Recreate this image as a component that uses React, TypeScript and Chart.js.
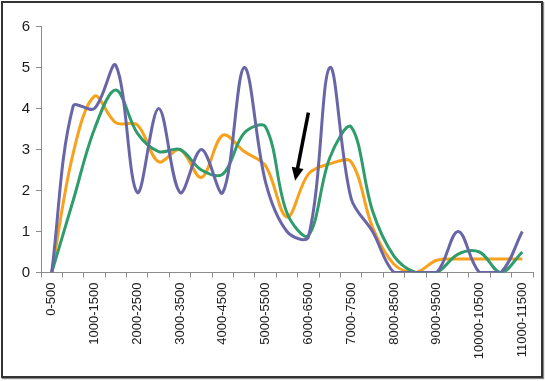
import React, { useEffect, useRef } from "react";
import { Chart, registerables } from "chart.js";

Chart.register(...registerables);

const categories = [
  "0-500", "500-1000", "1000-1500", "1500-2000", "2000-2500", "2500-3000",
  "3000-3500", "3500-4000", "4000-4500", "4500-5000", "5000-5500", "5500-6000",
  "6000-6500", "6500-7000", "7000-7500", "7500-8000", "8000-8500", "8500-9000",
  "9000-9500", "9500-10000", "10000-10500", "10500-11000", "11000-11500",
];

const purpleValues = [0, 4.05, 4.0, 5.05, 1.95, 4.0, 1.95, 3.0, 1.95, 5.0, 2.2, 1.0, 0.87, 5.0, 1.8, 1.0, 0, 0, 0, 1.0, 0, 0, 1.0];
const greenValues = [0, 1.75, 3.5, 4.45, 3.4, 2.95, 3.0, 2.5, 2.4, 3.4, 3.55, 1.45, 0.9, 2.8, 3.55, 1.5, 0.4, 0, 0, 0.45, 0.5, 0, 0.5];
const orangeValues = [0, 2.9, 4.3, 3.65, 3.6, 2.7, 3.0, 2.32, 3.35, 2.95, 2.6, 1.35, 2.4, 2.65, 2.7, 1.1, 0.2, 0, 0.3, 0.33, 0.33, 0.33, 0.33];

const yTicks = [0, 1, 2, 3, 4, 5, 6];

// arrow annotation in data units (category index, value)
const arrowTail = { x: 12.0, y: 3.9 };
const arrowTip = { x: 11.38, y: 2.24 };

const arrowPlugin = {
  id: "arrowAnnotation",
  afterDatasetsDraw(chart: any) {
    const { ctx, scales } = chart;
    const x1 = scales.x.getPixelForValue(arrowTail.x);
    const y1 = scales.y.getPixelForValue(arrowTail.y);
    const x2 = scales.x.getPixelForValue(arrowTip.x);
    const y2 = scales.y.getPixelForValue(arrowTip.y);
    const ang = Math.atan2(y2 - y1, x2 - x1);
    const headLen = 13;
    const headW = 6;
    const bx = x2 - headLen * Math.cos(ang);
    const by = y2 - headLen * Math.sin(ang);
    ctx.save();
    ctx.strokeStyle = "#000";
    ctx.fillStyle = "#000";
    ctx.lineWidth = 3.5;
    ctx.lineCap = "butt";
    ctx.beginPath();
    ctx.moveTo(x1, y1);
    ctx.lineTo(bx + 2 * Math.cos(ang), by + 2 * Math.sin(ang));
    ctx.stroke();
    ctx.beginPath();
    ctx.moveTo(x2, y2);
    ctx.lineTo(bx + headW * Math.sin(ang), by - headW * Math.cos(ang));
    ctx.lineTo(bx - headW * Math.sin(ang), by + headW * Math.cos(ang));
    ctx.closePath();
    ctx.fill();
    ctx.restore();
  },
};

export default function App() {
  const ref = useRef<HTMLCanvasElement | null>(null);

  useEffect(() => {
    if (!ref.current) return;
    const font = "'Liberation Sans', Arial, sans-serif";
    const mk = (data: number[], color: string) => ({
      data,
      borderColor: color,
      backgroundColor: color,
      borderWidth: 3,
      pointRadius: 0,
      tension: 0.35,
      fill: false,
    });
    const chart = new Chart(ref.current, {
      type: "line",
      data: {
        labels: categories,
        datasets: [
          mk(purpleValues, "#6966A8"),
          mk(greenValues, "#2F9C6C"),
          mk(orangeValues, "#F7A11C"),
        ],
      },
      options: {
        responsive: false,
        animation: false,
        events: [],
        layout: { padding: { left: 7, right: 12, top: 26.5, bottom: 0 } },
        plugins: { legend: { display: false }, tooltip: { enabled: false } },
        scales: {
          x: {
            type: "category",
            offset: true,
            grid: {
              offset: true,
              drawOnChartArea: false,
              drawTicks: true,
              tickLength: 5,
              color: "#8c8c8c",
            },
            border: { color: "#8c8c8c", width: 1 },
            ticks: {
              autoSkip: false,
              maxRotation: 90,
              minRotation: 90,
              padding: 5,
              color: "#1a1a1a",
              font: { family: font, size: 13 },
              callback: (_v: any, i: number) => (i % 2 === 0 ? categories[i] : ""),
            },
            afterFit: (s: any) => {
              s.height = 108.5;
            },
          },
          y: {
            min: 0,
            max: 6,
            afterBuildTicks: (s: any) => {
              s.ticks = yTicks.map((v) => ({ value: v }));
            },
            grid: {
              drawOnChartArea: false,
              drawTicks: true,
              tickLength: 5,
              color: "#8c8c8c",
            },
            border: { color: "#8c8c8c", width: 1 },
            ticks: {
              padding: 6,
              color: "#1a1a1a",
              font: { family: font, size: 15 },
            },
            afterFit: (s: any) => {
              s.width = 34;
            },
          },
        },
      },
      plugins: [arrowPlugin],
    });
    return () => chart.destroy();
  }, []);

  return (
    <div
      style={{
        position: "fixed",
        left: 0,
        top: 0,
        width: 545,
        height: 381,
        background: "#fff",
        overflow: "hidden",
      }}
    >
      <canvas
        ref={ref}
        width={545}
        height={381}
        style={{ position: "absolute", left: 0, top: 0, width: 545, height: 381 }}
      />
      <div
        style={{
          position: "absolute",
          left: 1,
          top: 1,
          width: 538,
          height: 373,
          border: "2px solid #333",
          boxShadow: "1px 1px 1px #888",
          pointerEvents: "none",
        }}
      />
    </div>
  );
}
